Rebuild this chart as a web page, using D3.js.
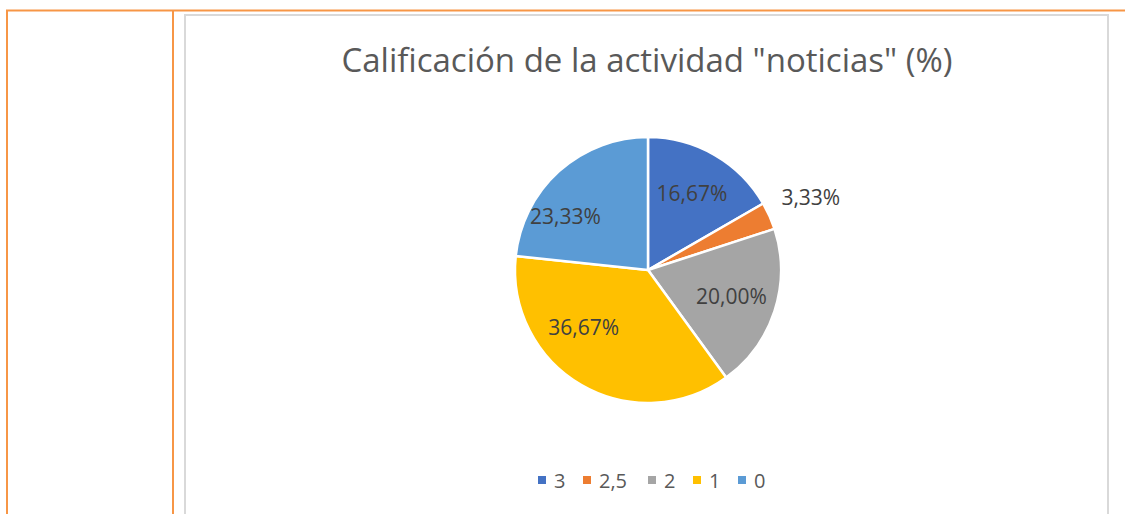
<!DOCTYPE html>
<html>
<head>
<meta charset="utf-8">
<script src="https://cdn.jsdelivr.net/npm/d3@7"></script>
<style>
  body { margin: 0; background: #fff; }
  svg { display: block; font-family: "Open Sans", sans-serif; }
</style>
</head>
<body>
<script>
// data
var categories = ["3", "2,5", "2", "1", "0"];
var values = [16.67, 3.33, 20.00, 36.67, 23.33];
var labels = ["16,67%", "3,33%", "20,00%", "36,67%", "23,33%"];
var colors = ["#4472C4", "#ED7D31", "#A5A5A5", "#FFC000", "#5B9BD5"];
var title = 'Calificación de la actividad "noticias" (%)';

var width = 1125,
    height = 514,
    cx = 648,
    cy = 270,
    radius = 133;

var svg = d3.select('body').append('svg')
    .attr('width', width)
    .attr('height', height);

// page frame lines (orange table borders)
svg.append('line')
    .attr('x1', 6).attr('x2', 1125).attr('y1', 10.5).attr('y2', 10.5)
    .attr('stroke', '#F79646').attr('stroke-width', 2);
svg.append('line')
    .attr('x1', 7).attr('x2', 7).attr('y1', 10).attr('y2', height)
    .attr('stroke', '#F79646').attr('stroke-width', 2);
svg.append('line')
    .attr('x1', 173).attr('x2', 173).attr('y1', 10).attr('y2', height)
    .attr('stroke', '#F79646').attr('stroke-width', 2);

// chart area border
svg.append('rect')
    .attr('x', 185).attr('y', 15)
    .attr('width', 923).attr('height', height + 10)
    .attr('fill', '#fff')
    .attr('stroke', '#D9D9D9').attr('stroke-width', 2);

svg.append('text')
    .attr('x', cx - 1).attr('y', 72)
    .attr('text-anchor', 'middle')
    .attr('font-size', 33)
    .attr('fill', '#595959')
    .text(title);

var pie = d3.pie().sort(null).value(function(d) { return d; });
var arcs = pie(values);
var arc = d3.arc().innerRadius(0).outerRadius(radius);

var g = svg.append('g').attr('transform', 'translate(' + cx + ',' + cy + ')');

g.selectAll('path')
    .data(arcs)
    .enter()
    .append('path')
    .attr('d', arc)
    .attr('fill', function(d, i) { return colors[i]; })
    .attr('stroke', '#fff')
    .attr('stroke-width', 2.5)
    .attr('stroke-linejoin', 'round');

// label placement: radius factor and angle nudge (deg), like Excel best fit
var labelRadius = [0.66, 1.34, 0.66, 0.65, 0.74];
var labelNudge = [0, 0, 0, 18, -15];

g.selectAll('text.lbl')
    .data(arcs)
    .enter()
    .append('text')
    .attr('class', 'lbl')
    .attr('x', function(d, i) {
        var a = (d.startAngle + d.endAngle) / 2 + labelNudge[i] * Math.PI / 180;
        return Math.sin(a) * radius * labelRadius[i];
    })
    .attr('y', function(d, i) {
        var a = (d.startAngle + d.endAngle) / 2 + labelNudge[i] * Math.PI / 180;
        return -Math.cos(a) * radius * labelRadius[i];
    })
    .attr('dy', '0.35em')
    .attr('text-anchor', 'middle')
    .attr('font-size', 21)
    .attr('fill', '#404040')
    .text(function(d, i) { return labels[i]; });

// legend
var legendX = [538, 583, 648, 693, 738];
var legend = svg.append('g');
var item = legend.selectAll('g')
    .data(categories)
    .enter()
    .append('g')
    .attr('transform', function(d, i) { return 'translate(' + legendX[i] + ',476)'; });

item.append('rect')
    .attr('width', 8).attr('height', 8)
    .attr('fill', function(d, i) { return colors[i]; });

item.append('text')
    .attr('x', 16).attr('y', 5)
    .attr('dy', '0.35em')
    .attr('font-size', 20)
    .attr('fill', '#595959')
    .text(function(d) { return d; });
</script>
</body>
</html>
